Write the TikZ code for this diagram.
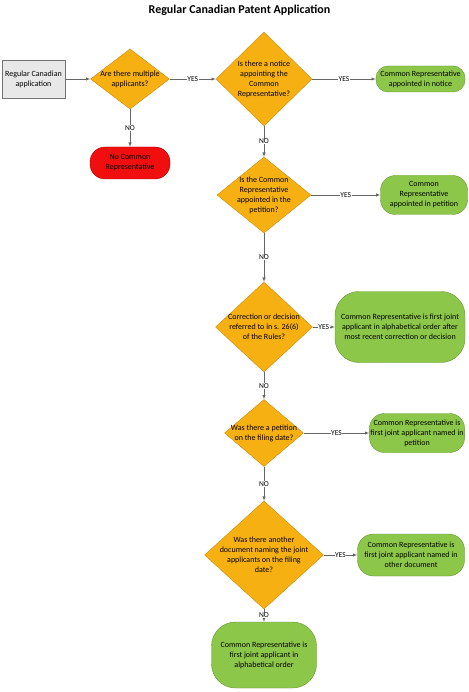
\documentclass[tikz,border=0pt]{standalone}
\usepackage{fontspec}
\setmainfont{Carlito}
\usepackage{xcolor}
\usetikzlibrary{shapes.geometric,positioning}

\definecolor{qorange}{RGB}{247,176,18}
\definecolor{qorangeline}{RGB}{205,140,10}
\definecolor{rgreen}{RGB}{141,199,74}
\definecolor{rgreenline}{RGB}{98,150,45}
\definecolor{rred}{RGB}{240,14,14}
\definecolor{rredline}{RGB}{175,0,0}

\begin{document}
\begin{tikzpicture}[-,>=latex,node distance=100pt,font=\fontsize{8}{10}\selectfont,text=black,question/.style={diamond,draw=qorangeline,fill=qorange,inner sep=0pt,inner xsep=-8pt,align=center},result/.style={rectangle,draw=rgreenline,fill=rgreen,inner sep=1pt,align=center},flow/.style={->,draw=black!60,line width=0.5pt},answer/.style={fill=white,inner sep=0.5pt,font=\fontsize{7.5}{9}\selectfont}]

            \useasboundingbox (0,0) rectangle (468pt,-692pt);

            \node[font=\fontsize{12}{14}\selectfont\bfseries] (title) at (239.5pt,-10pt) {Regular Canadian Patent Application};

            \node[rectangle, draw=black!55, fill=black!9, minimum width=63pt, minimum height=38pt, align=center] (start) at (33.5pt,-79pt) {Regular Canadian\\application};
            \node[question, minimum width=79pt, minimum height=57pt] (q1) [right of = start, node distance=96.5pt] {Are there multiple\\applicants?};
            \node[rectangle, draw=rredline, fill=rred, rounded corners=15pt, minimum width=80pt, minimum height=32pt, align=center] (r1) [below of = q1, node distance=84pt] {No Common\\Representative};
            \node[question, minimum width=96pt, minimum height=94pt] (q2) [right of = q1, node distance=134pt] {Is there a notice\\appointing the\\Common\\Representative?};
            \node[result, rounded corners=12pt, minimum width=89pt, minimum height=26pt] (r2) [right of = q2, node distance=156.5pt] {Common Representative\\appointed in notice};
            \node[question, minimum width=94pt, minimum height=76pt] (q3) [below of = q2, node distance=116pt] {Is the Common\\Representative\\appointed in the\\petition?};
            \node[result, rounded corners=15pt, minimum width=87pt, minimum height=39pt] (r3) [right of = q3, node distance=160pt] {Common\\Representative\\appointed in petition};
            \node[question, minimum width=97pt, minimum height=90pt] (q4) [below of = q3, node distance=132pt] {Correction or decision\\referred to in s. 26(6)\\of the Rules?};
            \node[result, rounded corners=24pt, minimum width=130pt, minimum height=71pt] (r4) [right of = q4, node distance=136pt] {Common Representative is first joint\\applicant in alphabetical order after\\most recent correction or decision};
            \node[question, minimum width=79pt, minimum height=60pt] (q5) [below of = q4, node distance=106pt] {Was there a petition\\on the filing date?};
            \node[result, rounded corners=15pt, minimum width=95pt, minimum height=39pt] (r5) [right of = q5, node distance=153pt] {Common Representative is\\first joint applicant named in\\petition};
            \node[question, minimum width=119pt, minimum height=104pt] (q6) [below of = q5, node distance=122pt] {Was there another\\document naming the joint\\applicants on the filing\\date?};
            \node[result, rounded corners=16pt, minimum width=107pt, minimum height=42pt] (r6) [right of = q6, node distance=147pt] {Common Representative is\\first joint applicant named in\\other document};
            \node[result, rounded corners=24pt, minimum width=105pt, minimum height=66pt] (r7) [below of = q6, node distance=100pt] {Common Representative is\\first joint applicant in\\alphabetical order};

            \draw[flow] (start) to (q1);
            \draw[flow] (q1) to node[answer]{YES} (q2);
            \draw[flow] (q1) to node[answer]{NO} (r1);
            \draw[flow] (q2) to node[answer]{YES} (r2);
            \draw[flow] (q2) to node[answer]{NO} (q3);
            \draw[flow] (q3) to node[answer]{YES} (r3);
            \draw[flow] (q3) to node[answer]{NO} (q4);
            \draw[flow] (q4) to node[answer]{YES} (r4);
            \draw[flow] (q4) to node[answer]{NO} (q5);
            \draw[flow] (q5) to node[answer]{YES} (r5);
            \draw[flow] (q5) to node[answer]{NO} (q6);
            \draw[flow] (q6) to node[answer]{YES} (r6);
            \draw[flow] (q6) to node[answer]{NO} (r7);

        \end{tikzpicture}
\end{document}
